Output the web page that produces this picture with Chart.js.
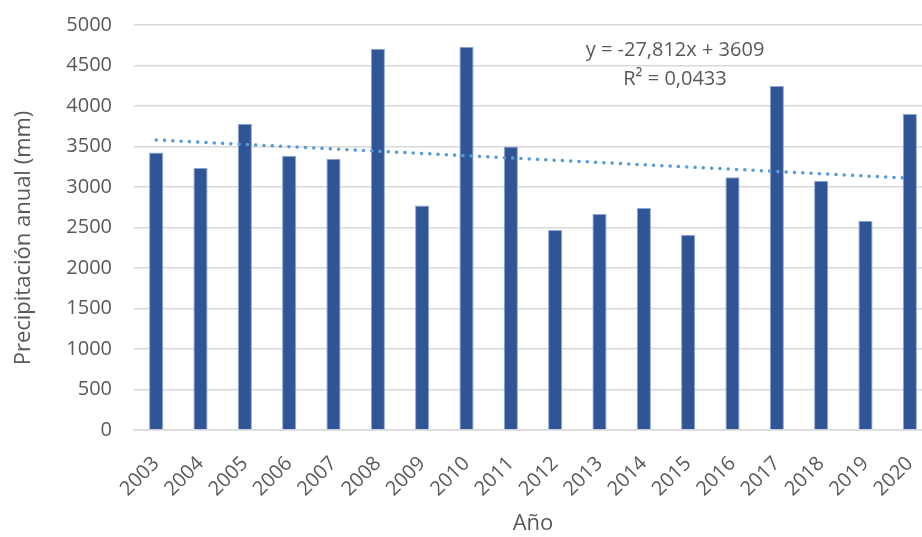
<!DOCTYPE html>
<html>
<head>
<meta charset="utf-8">
<script src="https://cdn.jsdelivr.net/npm/chart.js@4.4.0/dist/chart.umd.min.js"></script>
<style>
  html, body { margin: 0; padding: 0; background: #fff; overflow: hidden; }
  #wrap { width: 960px; height: 537px; }
</style>
</head>
<body>
<div id="wrap"><canvas id="rainChart" width="960" height="537"></canvas></div>
<script>
const years = ["2003", "2004", "2005", "2006", "2007", "2008", "2009", "2010", "2011",
               "2012", "2013", "2014", "2015", "2016", "2017", "2018", "2019", "2020"];
const rainfall = [3427, 3238, 3781, 3386, 3349, 4707, 2773, 4732, 3501,
                  2469, 2667, 2741, 2411, 3119, 4247, 3078, 2584, 3901];
// trendline end points, from the fitted equation shown on the chart
const trendStart = 3581;
const trendEnd = 3108;
const trendLabel = ["y = -27,812x + 3609", "R\u00B2 = 0,0433"];
const yTitle = "Precipitación anual (mm)";

const trend = years.map((y, i) => i === 0 ? trendStart : (i === years.length - 1 ? trendEnd : null));

const font = "'Open Sans', sans-serif";
const grey = "#595959";

// equation box and the y title (Excel puts it a bit below the plot's middle)
const extraText = {
  id: "extraText",
  afterDatasetsDraw(chart) {
    const ctx = chart.ctx;
    ctx.save();
    ctx.fillStyle = grey;
    ctx.font = "20px " + font;
    ctx.textAlign = "center";
    ctx.textBaseline = "middle";
    ctx.fillText(trendLabel[0], 675, 50);
    ctx.fillText(trendLabel[1], 675, 79);

    ctx.font = "22px " + font;
    ctx.translate(24, 238);
    ctx.rotate(-Math.PI / 2);
    ctx.fillText(yTitle, 0, 0);
    ctx.restore();
  }
};

const ctx = document.getElementById("rainChart").getContext("2d");
new Chart(ctx, {
  type: "bar",
  data: {
    labels: years,
    datasets: [
      {
        type: "line",
        data: trend,
        spanGaps: true,
        borderColor: "#5B9BD5",
        borderWidth: 3.5,
        borderDash: [0.1, 8.2],
        borderCapStyle: "round",
        pointRadius: 0,
        fill: false,
        order: 0
      },
      {
        data: rainfall,
        backgroundColor: "#2F5597",
        borderColor: "#8FA9D6",
        borderWidth: { left: 1, right: 1, top: 1, bottom: 0 },
        barPercentage: 0.32,
        categoryPercentage: 1,
        order: 1
      }
    ]
  },
  options: {
    responsive: false,
    animation: false,
    layout: { padding: { top: 25, right: 28, left: 0, bottom: 0 } },
    plugins: {
      legend: { display: false },
      tooltip: { enabled: false }
    },
    scales: {
      x: {
        grid: { display: false, drawTicks: false },
        border: { color: "#d9d9d9", width: 1.5 },
        ticks: {
          color: grey,
          font: { family: font, size: 20 },
          minRotation: 45,
          maxRotation: 45,
          padding: 22
        },
        title: {
          display: true,
          text: "Año",
          color: grey,
          font: { family: font, size: 22 },
          padding: { top: 0, bottom: 0 }
        },
        afterFit(scale) {
          scale.height = 107;
          scale.paddingLeft = 0;
          scale.paddingRight = 0;
        }
      },
      y: {
        min: 0,
        max: 5000,
        ticks: {
          stepSize: 500,
          color: grey,
          font: { family: font, size: 20 },
          padding: 22,
          callback: (v) => String(v)
        },
        grid: { color: "#d9d9d9", lineWidth: 1.5, drawTicks: false },
        border: { display: false },
        title: { display: false },
        afterFit(scale) {
          scale.width = 134;
          scale.paddingTop = 0;
          scale.paddingBottom = 0;
        }
      }
    }
  },
  plugins: [extraText]
});
</script>
</body>
</html>
